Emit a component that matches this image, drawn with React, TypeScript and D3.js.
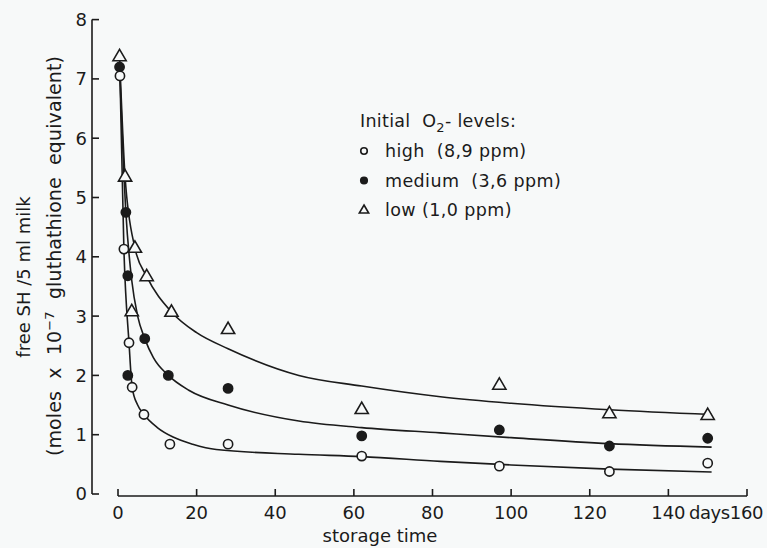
import { useEffect, useRef } from 'react';
import * as d3 from 'd3';

const WIDTH = 767;
const HEIGHT = 548;
const INK = '#1b1b1b';
const BG = '#f7f9f9';
const FONT = '"DejaVu Sans", "Noto Sans", sans-serif';

// measured points (storage day, free SH)
const DAYS_HIGH = [0.5, 1.5, 2.8, 3.6, 6.6, 13.2, 28, 62, 97, 125, 150];
const VAL_HIGH = [7.05, 4.13, 2.55, 1.8, 1.34, 0.84, 0.84, 0.64, 0.47, 0.38, 0.52];
const DAYS_MED = [0.4, 2, 2.5, 2.5, 6.8, 12.8, 28, 62, 97, 125, 150];
const VAL_MED = [7.2, 4.75, 3.68, 2.0, 2.62, 2.0, 1.78, 0.98, 1.08, 0.81, 0.94];
const DAYS_LOW = [0.4, 1.8, 3.5, 4.3, 7.3, 13.6, 28, 62, 97, 125, 150];
const VAL_LOW = [7.38, 5.35, 3.08, 4.15, 3.67, 3.07, 2.78, 1.43, 1.84, 1.36, 1.33];

// hand-fitted curves
const FIT_HIGH_DAYS = [0.5, 1.5, 2.8, 3.6, 5, 6.6, 10, 14, 19, 25, 46, 62, 82, 100, 125, 151];
const FIT_HIGH_VALS = [7.05, 4.13, 2.55, 1.8, 1.5, 1.34, 1.12, 0.96, 0.84, 0.75, 0.67, 0.63, 0.55, 0.49, 0.42, 0.37];
const FIT_MED_DAYS = [0.4, 2, 3.5, 5, 6.8, 9, 12.8, 18, 28, 46, 62, 82, 100, 125, 151];
const FIT_MED_VALS = [7.2, 4.75, 3.6, 3.0, 2.62, 2.3, 2.0, 1.75, 1.5, 1.23, 1.12, 1.03, 0.95, 0.85, 0.79];
const FIT_LOW_DAYS = [0.4, 1.8, 4.3, 7.3, 13.6, 20, 28, 46, 62, 82, 100, 125, 151];
const FIT_LOW_VALS = [7.38, 5.35, 4.15, 3.67, 3.07, 2.72, 2.45, 2.0, 1.82, 1.64, 1.53, 1.42, 1.34];

const X_TICKS = [0, 20, 40, 60, 80, 100, 120, 140, 160];
const Y_TICKS = [0, 1, 2, 3, 4, 5, 6, 7, 8];

const LEGEND_LABELS = ['high  (8,9 ppm)', 'medium  (3,6 ppm)', 'low (1,0 ppm)'];
const LEGEND_KINDS = ['open', 'filled', 'triangle'];

type Kind = 'open' | 'filled' | 'triangle';

function drawMarker(
  g: d3.Selection<SVGGElement, unknown, null, undefined>,
  kind: Kind,
  cx: number,
  cy: number,
  size: number,
) {
  if (kind === 'triangle') {
    const h = size * 0.95;
    const w = size * 1.1;
    g.append('path')
      .attr('d', `M${cx},${cy - h * 0.62} L${cx + w / 2},${cy + h * 0.38} L${cx - w / 2},${cy + h * 0.38} Z`)
      .attr('fill', BG)
      .attr('stroke', INK)
      .attr('stroke-width', 1.6)
      .attr('stroke-linejoin', 'miter');
  } else {
    g.append('circle')
      .attr('cx', cx)
      .attr('cy', cy)
      .attr('r', size / 2.6)
      .attr('fill', kind === 'filled' ? INK : BG)
      .attr('stroke', INK)
      .attr('stroke-width', 1.6);
  }
}

export default function App() {
  const svgRef = useRef<SVGSVGElement>(null);

  useEffect(() => {
    const svg = svgRef.current;
    if (!svg) return;
    d3.select(svg).selectAll('*').remove();

    const root = d3.select(svg);
    root.append('rect').attr('width', WIDTH).attr('height', HEIGHT).attr('fill', BG);
    const g = root.append('g');

    const x = d3.scaleLinear().domain([0, 160]).range([118, 747]);
    const y = d3.scaleLinear().domain([0, 8]).range([494, 19.6]);

    const text = (sel: d3.Selection<SVGGElement, unknown, null, undefined>, size = 18) =>
      sel.append('text')
        .attr('xml:space', 'preserve')
        .style('white-space', 'pre')
        .attr('font-family', FONT)
        .attr('font-size', size)
        .attr('fill', INK);

    // y axis: line with inward ticks
    const yAxisX = 92;
    g.append('line')
      .attr('x1', yAxisX).attr('x2', yAxisX)
      .attr('y1', y(8)).attr('y2', y(0))
      .attr('stroke', INK).attr('stroke-width', 1.6);
    Y_TICKS.forEach((t) => {
      g.append('line')
        .attr('x1', yAxisX).attr('x2', yAxisX + 7)
        .attr('y1', y(t)).attr('y2', y(t))
        .attr('stroke', INK).attr('stroke-width', 1.6);
      text(g)
        .attr('x', yAxisX - 5)
        .attr('y', y(t))
        .attr('dy', '0.36em')
        .attr('text-anchor', 'end')
        .text(String(t));
    });

    // x axis: offset line with upward ticks
    const xAxisY = 496;
    g.append('line')
      .attr('x1', x(0)).attr('x2', x(160))
      .attr('y1', xAxisY).attr('y2', xAxisY)
      .attr('stroke', INK).attr('stroke-width', 1.6);
    X_TICKS.forEach((t) => {
      g.append('line')
        .attr('x1', x(t)).attr('x2', x(t))
        .attr('y1', xAxisY).attr('y2', xAxisY - 7)
        .attr('stroke', INK).attr('stroke-width', 1.6);
      if (t === 160) return;
      text(g)
        .attr('x', x(t))
        .attr('y', 519)
        .attr('text-anchor', 'middle')
        .text(String(t));
    });
    text(g)
      .attr('x', 763)
      .attr('y', 519)
      .attr('text-anchor', 'end')
      .attr('letter-spacing', -0.4)
      .text('days160');

    text(g)
      .attr('x', 380)
      .attr('y', 542)
      .attr('text-anchor', 'middle')
      .text('storage time');

    // y label (two lines)
    text(g)
      .attr('transform', 'translate(30,277) rotate(-90)')
      .attr('text-anchor', 'middle')
      .text('free SH /5 ml milk');
    const yl2 = text(g, 19)
      .attr('transform', 'translate(61,256) rotate(-90)')
      .attr('text-anchor', 'middle')
      .attr('letter-spacing', 0.1);
    yl2.append('tspan').text('(moles  x  10');
    yl2.append('tspan').attr('dy', -7).attr('font-size', 13).text('−7');
    yl2.append('tspan').attr('dy', 7).text('  gluthathione  equivalent)');

    // fitted curves
    const line = d3.line<[number, number]>()
      .x((d) => x(d[0]))
      .y((d) => y(d[1]))
      .curve(d3.curveMonotoneX);
    const fits: [number[], number[]][] = [
      [FIT_HIGH_DAYS, FIT_HIGH_VALS],
      [FIT_MED_DAYS, FIT_MED_VALS],
      [FIT_LOW_DAYS, FIT_LOW_VALS],
    ];
    fits.forEach(([ds, vs]) => {
      g.append('path')
        .attr('d', line(ds.map((d, i) => [d, vs[i]] as [number, number])))
        .attr('fill', 'none')
        .attr('stroke', INK)
        .attr('stroke-width', 1.6);
    });

    // data points
    const series: [number[], number[], Kind][] = [
      [DAYS_LOW, VAL_LOW, 'triangle'],
      [DAYS_MED, VAL_MED, 'filled'],
      [DAYS_HIGH, VAL_HIGH, 'open'],
    ];
    series.forEach(([ds, vs, kind]) => {
      ds.forEach((d, i) => drawMarker(g, kind, x(d), y(vs[i]), 12));
    });

    // legend
    const leg = g.append('g');
    const title = text(leg, 17.5)
      .attr('x', 360)
      .attr('y', 127)
      .attr('letter-spacing', 0.3);
    title.append('tspan').text('Initial  O');
    title.append('tspan').attr('dy', 5).attr('font-size', 13).text('2');
    title.append('tspan').attr('dy', -5).text('- levels:');
    LEGEND_LABELS.forEach((lab, i) => {
      const cy = 151 + i * 29.5;
      drawMarker(leg, LEGEND_KINDS[i] as Kind, 364, cy, 8.5);
      text(leg, 17.5)
        .attr('x', 385)
        .attr('y', cy)
        .attr('dy', '0.36em')
        .attr('letter-spacing', 0.4)
        .text(lab);
    });
  }, []);

  return (
    <div style={{ position: 'absolute', left: 0, top: 0, width: WIDTH, height: HEIGHT }}>
      <svg ref={svgRef} width={WIDTH} height={HEIGHT} style={{ display: 'block' }} />
    </div>
  );
}
